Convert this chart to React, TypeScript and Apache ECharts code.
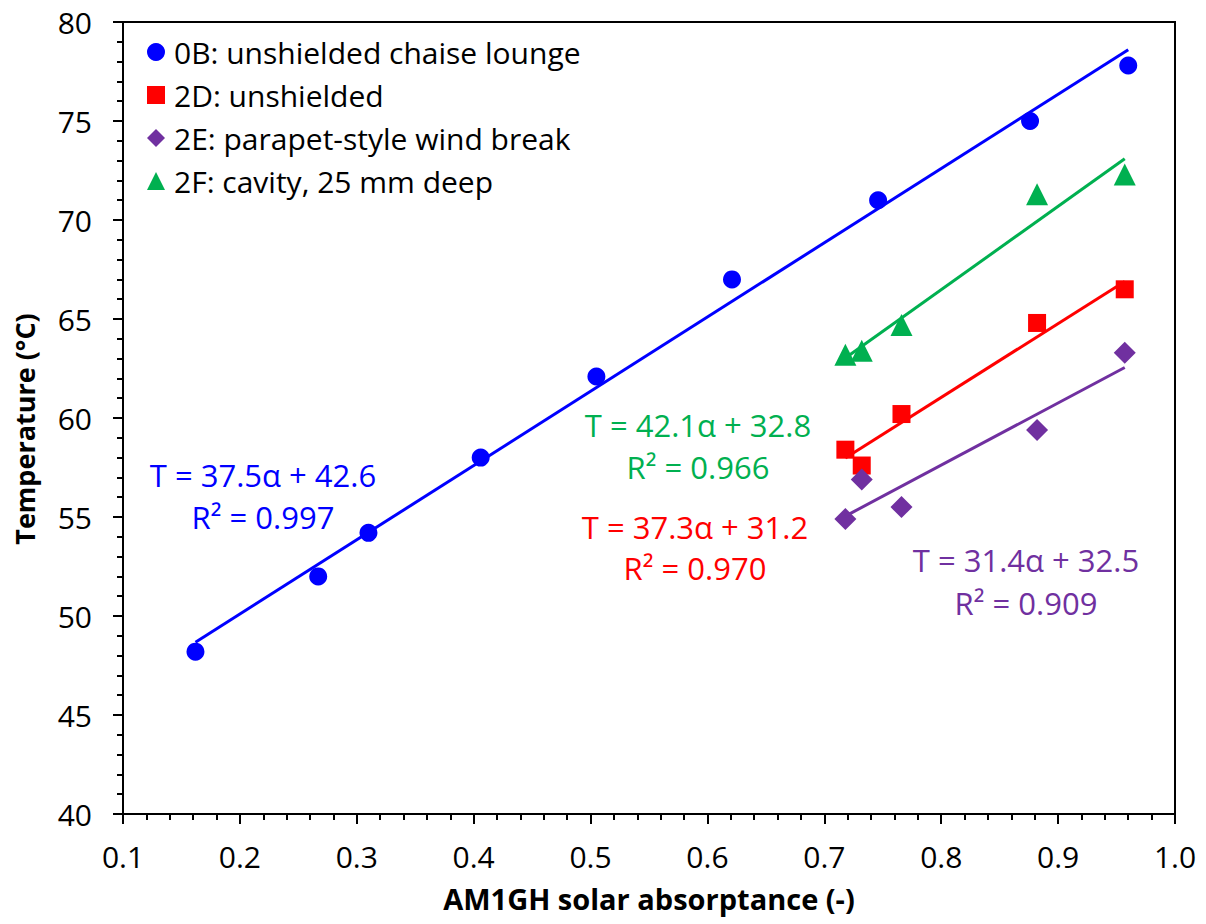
import React, { useEffect, useRef } from 'react';
import * as echarts from 'echarts';

// ---- Data ----
const seriesNames = [
  '0B: unshielded chaise lounge',
  '2D: unshielded',
  '2E: parapet-style wind break',
  '2F: cavity, 25 mm deep',
];
const seriesColors = ['#0000FF', '#FF0000', '#7030A0', '#00B050'];
const seriesSymbols = ['circle', 'rect', 'diamond', 'triangle'];

const x0B = [0.162, 0.267, 0.31, 0.406, 0.505, 0.621, 0.746, 0.876, 0.96];
const y0B = [48.2, 52.0, 54.2, 58.0, 62.1, 67.0, 71.0, 75.0, 77.8];

const x2 = [0.718, 0.732, 0.766, 0.882, 0.957];
const y2D = [58.4, 57.6, 60.2, 64.8, 66.5];
const y2E = [54.9, 56.9, 55.5, 59.4, 63.3];
const y2F = [63.2, 63.4, 64.7, 71.3, 72.3];

const fitSlope = [37.5, 37.3, 31.4, 42.1];
const fitIntercept = [42.6, 31.2, 32.5, 32.8];
const fitR2 = ['0.997', '0.970', '0.909', '0.966'];

const xTicks = ['0.1', '0.2', '0.3', '0.4', '0.5', '0.6', '0.7', '0.8', '0.9', '1.0'];

const FONT = '"Open Sans", "Noto Sans", sans-serif';

const xs = [x0B, x2, x2, x2];
const ys = [y0B, y2D, y2E, y2F];

function buildOption() {
  const scatter = seriesNames.map((name, i) => ({
    name,
    type: 'scatter',
    symbol: seriesSymbols[i],
    symbolSize: i === 0 ? 18 : i === 1 ? 18 : 22,
    itemStyle: { color: seriesColors[i], opacity: 1 },
    data: xs[i].map((x, j) => [x, ys[i][j]]),
    z: 2,
  }));
  const trend = seriesNames.map((name, i) => {
    const xmin = Math.min(...xs[i]);
    const xmax = Math.max(...xs[i]);
    return {
      name: name + ' fit',
      type: 'line',
      symbol: 'none',
      silent: true,
      lineStyle: { color: seriesColors[i], width: 3 },
      data: [
        [xmin, fitSlope[i] * xmin + fitIntercept[i]],
        [xmax, fitSlope[i] * xmax + fitIntercept[i]],
      ],
      z: 3,
    };
  });

  const eqPos = [
    { x: 263, y1: 475, y2: 517 },
    { x: 695, y1: 527, y2: 568 },
    { x: 1026, y1: 560, y2: 603 },
    { x: 698, y1: 425, y2: 467 },
  ];
  const graphic: any[] = [];
  seriesNames.forEach((_, i) => {
    const p = eqPos[i];
    graphic.push({
      type: 'text',
      x: p.x,
      y: p.y1,
      z: 10,
      style: {
        text: `T = ${fitSlope[i].toFixed(1)}α + ${fitIntercept[i].toFixed(1)}`,
        fill: seriesColors[i],
        font: `31px ${FONT}`,
        textAlign: 'center',
        textVerticalAlign: 'middle',
      },
    });
    graphic.push({
      type: 'text',
      x: p.x,
      y: p.y2,
      z: 10,
      style: {
        text: `R² = ${fitR2[i]}`,
        fill: seriesColors[i],
        font: `31px ${FONT}`,
        textAlign: 'center',
        textVerticalAlign: 'middle',
      },
    });
  });
  graphic.push({
    type: 'text',
    x: 24,
    y: 429,
    rotation: Math.PI / 2,
    z: 10,
    style: {
      text: 'Temperature (°C)',
      fill: '#000',
      font: `bold 27px ${FONT}`,
      textAlign: 'center',
      textVerticalAlign: 'middle',
    },
  });

  return {
    animation: false,
    backgroundColor: '#ffffff',
    textStyle: { fontFamily: FONT },
    grid: {
      left: 123,
      right: 31,
      top: 22,
      bottom: 110,
      show: true,
      borderColor: '#000',
      borderWidth: 2,
      backgroundColor: 'transparent',
    },
    legend: {
      data: seriesNames,
      orient: 'vertical',
      left: 147,
      top: 37,
      padding: 0,
      itemGap: 13,
      itemWidth: 18,
      itemHeight: 18,
      textStyle: { fontSize: 30, color: '#000', fontFamily: FONT, lineHeight: 30, padding: [0, 0, 0, 4] },
    },
    xAxis: {
      type: 'value',
      min: 0.1,
      max: 1.0,
      interval: 0.1,
      name: 'AM1GH solar absorptance (-)',
      nameLocation: 'middle',
      nameGap: 70,
      nameTextStyle: { fontSize: 29, fontWeight: 'bold', color: '#000', fontFamily: FONT },
      axisLine: { show: true, onZero: false, lineStyle: { color: '#000', width: 2 } },
      axisTick: { show: true, inside: false, length: 10, lineStyle: { color: '#000', width: 2 } },
      minorTick: { show: true, splitNumber: 5, length: 6, lineStyle: { color: '#000', width: 2 } },
      splitLine: { show: false },
      axisLabel: {
        fontSize: 30,
        color: '#000',
        margin: 27,
        fontFamily: FONT,
        formatter: (v: number) => xTicks[Math.round((v - 0.1) * 10)] ?? v.toFixed(1),
      },
    },
    yAxis: {
      type: 'value',
      min: 40,
      max: 80,
      interval: 5,
      axisLine: { show: true, onZero: false, lineStyle: { color: '#000', width: 2 } },
      axisTick: { show: true, inside: false, length: 10, lineStyle: { color: '#000', width: 2 } },
      minorTick: { show: true, splitNumber: 5, length: 6, lineStyle: { color: '#000', width: 2 } },
      splitLine: { show: false },
      axisLabel: { fontSize: 30, color: '#000', margin: 31, fontFamily: FONT },
    },
    series: [...scatter, ...trend],
    graphic,
  };
}

export default function App() {
  const ref = useRef<HTMLDivElement>(null);
  useEffect(() => {
    if (!ref.current) return;
    const chart = echarts.init(ref.current, null, { renderer: 'svg' });
    chart.setOption(buildOption() as any);
    return () => chart.dispose();
  }, []);
  return (
    <div
      ref={ref}
      style={{ position: 'fixed', left: 0, top: 0, width: 1206, height: 924, background: '#fff' }}
    />
  );
}
